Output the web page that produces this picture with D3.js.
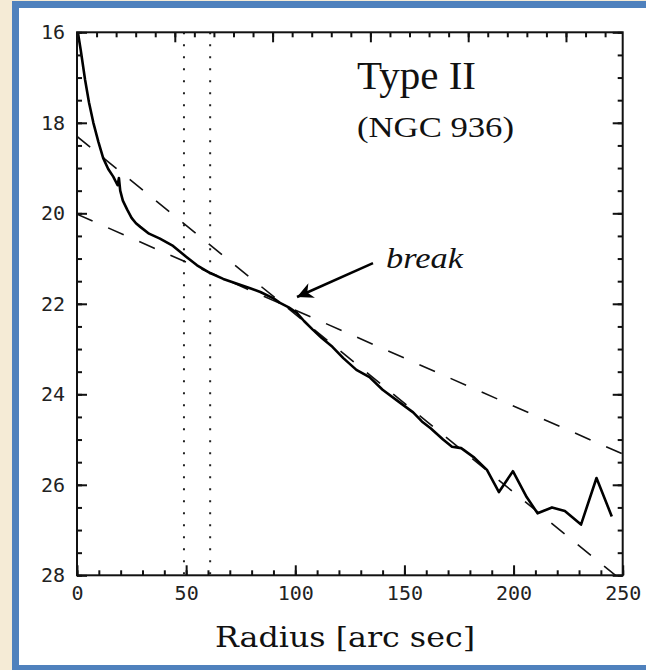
<!DOCTYPE html>
<html>
<head>
<meta charset="utf-8">
<script src="https://cdn.jsdelivr.net/npm/d3@7"></script>
<style>
  body { margin: 0; background: #f5ebd6; }
</style>
</head>
<body>
<div id="chart"></div>
<script>
// surface brightness profile of NGC 936 (radius in arcsec, mu in mag/arcsec^2)
const profileRadius = [0.4, 1.7, 3.7, 5.5, 7.5, 9.8, 12, 14.3, 16.6, 18.6, 19.2, 19.8, 21, 23, 25, 27, 29, 33, 38, 44, 50, 55, 61, 67, 73, 79, 84, 90, 93, 97, 100.7, 104, 108, 112, 117, 122, 128, 134, 140, 147, 154, 158, 162, 167.7, 171.8, 176, 182, 187.8, 193.3, 199.7, 206, 211, 217.6, 223.5, 230.9, 238, 245];
const profileMu = [16.0, 16.39, 17.05, 17.55, 18.0, 18.42, 18.78, 19.02, 19.19, 19.38, 19.22, 19.5, 19.72, 19.92, 20.1, 20.22, 20.3, 20.45, 20.56, 20.72, 20.96, 21.15, 21.32, 21.45, 21.55, 21.65, 21.74, 21.88, 21.98, 22.08, 22.2, 22.38, 22.57, 22.75, 22.95, 23.2, 23.46, 23.62, 23.9, 24.15, 24.4, 24.6, 24.75, 25.0, 25.16, 25.19, 25.4, 25.67, 26.16, 25.7, 26.27, 26.63, 26.5, 26.58, 26.88, 25.85, 26.7];

// exponential fits (straight lines in magnitudes)
const innerFit = [[0, 20.02], [250, 25.32]];
const outerFit = [[0, 18.3], [250, 28.13]];

// radii bounding the break region
const breakRadii = [49, 61];

const xTicks = [0, 50, 100, 150, 200, 250];
const xMinor = d3.range(0, 251, 10);
const yTicks = [16, 18, 20, 22, 24, 26, 28];
const yMinor = d3.range(16, 28.01, 0.5);
// top axis is in a second unit, major ticks at every unit
const topMax = 5.58;
const topTicks = d3.range(0, 5.01, 1);
const topMinor = d3.range(0, 5.58, 0.2);

// annotation anchors in data units
const arrowFrom = [135.6, 21.1];
const arrowTo = [100.8, 21.85];

function init() {
    const w = 646;
    const h = 670;
    const left = 77, right = 622.7, top = 32.3, bottom = 575.3;

    const svg = d3.select("#chart").append("svg")
        .attr("width", w)
        .attr("height", h);

    // blue slide frame
    svg.append("rect")
        .attr("x", 15.5).attr("y", 4.5)
        .attr("width", 680).attr("height", 664)
        .attr("fill", "#ffffff")
        .attr("stroke", "#4f81bd")
        .attr("stroke-width", 7);

    const x = d3.scaleLinear().domain([0, 250]).range([left, right]);
    const y = d3.scaleLinear().domain([16, 28]).range([top, bottom]);
    const xTop = d3.scaleLinear().domain([0, topMax]).range([left, right]);

    svg.append("clipPath").attr("id", "plot")
        .append("rect")
        .attr("x", left).attr("y", top)
        .attr("width", right - left).attr("height", bottom - top);

    const plot = svg.append("g").attr("clip-path", "url(#plot)");

    // dotted verticals
    plot.selectAll("line.brk")
        .data(breakRadii)
        .enter().append("line")
        .attr("class", "brk")
        .attr("x1", d => x(d)).attr("x2", d => x(d))
        .attr("y1", top).attr("y2", bottom)
        .attr("stroke", "#222")
        .attr("stroke-width", 2)
        .attr("stroke-dasharray", "2,10");

    const line = d3.line()
        .x(d => x(d[0]))
        .y(d => y(d[1]));

    // dashed fits
    [innerFit, outerFit].forEach(fit => {
        plot.append("path")
            .datum(fit)
            .attr("fill", "none")
            .attr("stroke", "#111")
            .attr("stroke-width", 1.6)
            .attr("stroke-dasharray", "17,17")
            .attr("d", line);
    });

    // profile
    const profile = profileRadius.map((r, i) => [r, profileMu[i]]);
    plot.append("path")
        .datum(profile)
        .attr("fill", "none")
        .attr("stroke", "#000")
        .attr("stroke-width", 2.6)
        .attr("stroke-linejoin", "round")
        .attr("d", line);

    // axes: ticks point inward on all four sides
    function styleAxis(g) {
        g.select(".domain").remove();
        g.selectAll("line").attr("stroke", "#111").attr("stroke-width", 2);
        g.selectAll("text")
            .attr("font-family", "DejaVu Sans Mono, monospace")
            .attr("font-size", 20)
            .attr("fill", "#222");
    }

    svg.append("g")
        .attr("transform", `translate(0,${bottom})`)
        .call(d3.axisBottom(x).tickValues(xMinor).tickSizeInner(-5).tickSizeOuter(0).tickFormat(""))
        .call(styleAxis);
    svg.append("g")
        .attr("transform", `translate(0,${bottom})`)
        .call(d3.axisBottom(x).tickValues(xTicks).tickSizeInner(-10).tickSizeOuter(0).tickPadding(11).tickFormat(d3.format("d")))
        .call(styleAxis);

    svg.append("g")
        .attr("transform", `translate(${left},0)`)
        .call(d3.axisLeft(y).tickValues(yMinor).tickSizeInner(-5).tickSizeOuter(0).tickFormat(""))
        .call(styleAxis);
    svg.append("g")
        .attr("transform", `translate(${left},0)`)
        .call(d3.axisLeft(y).tickValues(yTicks).tickSizeInner(-10).tickSizeOuter(0).tickPadding(12).tickFormat(d3.format("d")))
        .call(styleAxis);

    svg.append("g")
        .attr("transform", `translate(${right},0)`)
        .call(d3.axisRight(y).tickValues(yMinor).tickSizeInner(-5).tickSizeOuter(0).tickFormat(""))
        .call(styleAxis);
    svg.append("g")
        .attr("transform", `translate(${right},0)`)
        .call(d3.axisRight(y).tickValues(yTicks).tickSizeInner(-10).tickSizeOuter(0).tickFormat(""))
        .call(styleAxis);

    svg.append("g")
        .attr("transform", `translate(0,${top})`)
        .call(d3.axisTop(xTop).tickValues(topMinor).tickSizeInner(-5).tickSizeOuter(0).tickFormat(""))
        .call(styleAxis);
    svg.append("g")
        .attr("transform", `translate(0,${top})`)
        .call(d3.axisTop(xTop).tickValues(topTicks).tickSizeInner(-10).tickSizeOuter(0).tickFormat(""))
        .call(styleAxis);

    // frame
    svg.append("rect")
        .attr("x", left).attr("y", top)
        .attr("width", right - left).attr("height", bottom - top)
        .attr("fill", "none")
        .attr("stroke", "#111")
        .attr("stroke-width", 2);

    // axis title
    svg.append("text")
        .attr("x", 345)
        .attr("y", 647)
        .attr("text-anchor", "middle")
        .attr("font-family", "DejaVu Serif, serif")
        .attr("font-size", 28)
        .attr("textLength", 260)
        .attr("lengthAdjust", "spacingAndGlyphs")
        .attr("fill", "#111")
        .text("Radius [arc sec]");

    // labels
    svg.append("text")
        .attr("x", 357).attr("y", 89)
        .attr("font-family", "Liberation Serif, Times New Roman, serif")
        .attr("font-size", 41)
        .attr("fill", "#111")
        .text("Type II");

    svg.append("text")
        .attr("x", 357).attr("y", 137)
        .attr("font-family", "Liberation Serif, Times New Roman, serif")
        .attr("font-size", 30)
        .attr("textLength", 157)
        .attr("lengthAdjust", "spacingAndGlyphs")
        .attr("fill", "#111")
        .text("(NGC 936)");

    svg.append("text")
        .attr("x", 386).attr("y", 268)
        .attr("font-family", "Liberation Serif, Times New Roman, serif")
        .attr("font-style", "italic")
        .attr("font-size", 30)
        .attr("textLength", 77)
        .attr("lengthAdjust", "spacingAndGlyphs")
        .attr("fill", "#111")
        .text("break");

    // arrow pointing to the break
    svg.append("defs").append("marker")
        .attr("id", "head")
        .attr("viewBox", "0 0 10 10")
        .attr("refX", 10).attr("refY", 5)
        .attr("markerUnits", "userSpaceOnUse")
        .attr("markerWidth", 20).attr("markerHeight", 16)
        .attr("orient", "auto")
        .append("path")
        .attr("d", "M0,0 L10,5 L0,10 L3,5 Z")
        .attr("fill", "#000");

    svg.append("line")
        .attr("x1", x(arrowFrom[0])).attr("y1", y(arrowFrom[1]))
        .attr("x2", x(arrowTo[0])).attr("y2", y(arrowTo[1]))
        .attr("stroke", "#000")
        .attr("stroke-width", 2.5)
        .attr("marker-end", "url(#head)");
}

window.onload = init;
</script>
</body>
</html>
